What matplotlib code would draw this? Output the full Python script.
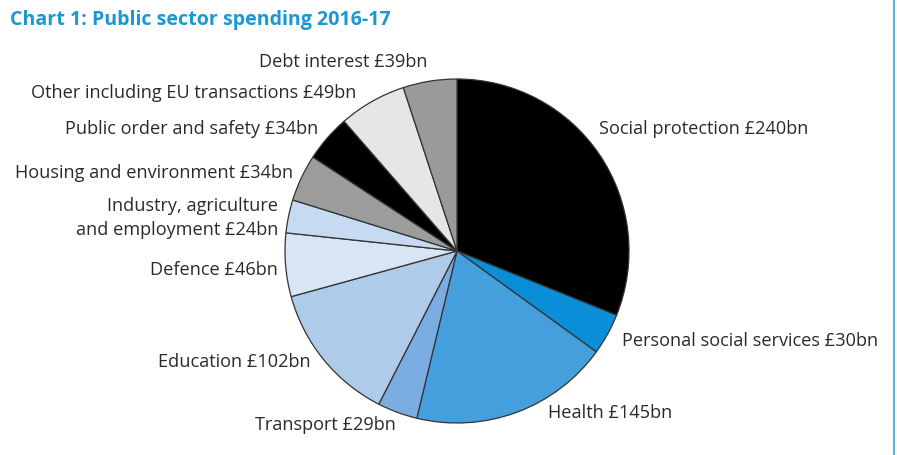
import matplotlib
matplotlib.use("Agg")
import matplotlib.pyplot as plt
from matplotlib.lines import Line2D

# ── Data (£bn, 2016-17) ──────────────────────────────────────────────────────
categories = [
    "Social protection", "Personal social services", "Health", "Transport",
    "Education", "Defence", "Industry, agriculture\nand employment",
    "Housing and environment", "Public order and safety",
    "Other including EU transactions", "Debt interest",
]
spending = [240, 30, 145, 29, 102, 46, 24, 34, 34, 49, 39]
colors = [
    "#000000", "#0a8ed8", "#469fdd", "#7badE2", "#aecbe9", "#d7e5f4",
    "#c6dbf1", "#9c9c9c", "#000000", "#e6e6e6", "#9a9a9a",
]

# label anchor (x, y in pixels from top-left) and alignment
label_pos = [
    (599, 129, "left"), (622, 341, "left"), (548, 413, "left"),
    (396, 425, "right"), (311, 362, "right"), (278, 270, "right"),
    (278, 218, "right"), (293, 173, "right"), (318, 129, "right"),
    (356, 93, "right"), (427, 62, "right"),
]

W, H = 897, 456
fig = plt.figure(figsize=(W / 100, H / 100), dpi=100)
ax = fig.add_axes([0, 0, 1, 1])

ax.pie(spending, colors=colors, startangle=90, counterclock=False,
       center=(457, H - 252), radius=172, frame=True,
       wedgeprops=dict(edgecolor="#333333", linewidth=0.9))
ax.set_xlim(0, W)
ax.set_ylim(0, H)
ax.set_aspect("equal")
ax.axis("off")

font = "Open Sans"
for name, val, (x, y, ha) in zip(categories, spending, label_pos):
    ax.text(x, H - y, f"{name} £{val}bn", ha=ha, va="center",
            fontsize=13.1, family=font, color="#2a2a2a", linespacing=1.45)

fig.text(10 / W, 1 - 20 / H, "Chart 1: Public sector spending 2016-17",
         ha="left", va="center", fontsize=14.1, fontweight="bold",
         family=font, color="#1b98d3")

# thin blue frame line on the right edge
fig.add_artist(Line2D([894 / W, 894 / W], [0, 1], color="#5ab4de",
                      linewidth=1.5, transform=fig.transFigure))

fig.savefig("out.png", dpi=100)
